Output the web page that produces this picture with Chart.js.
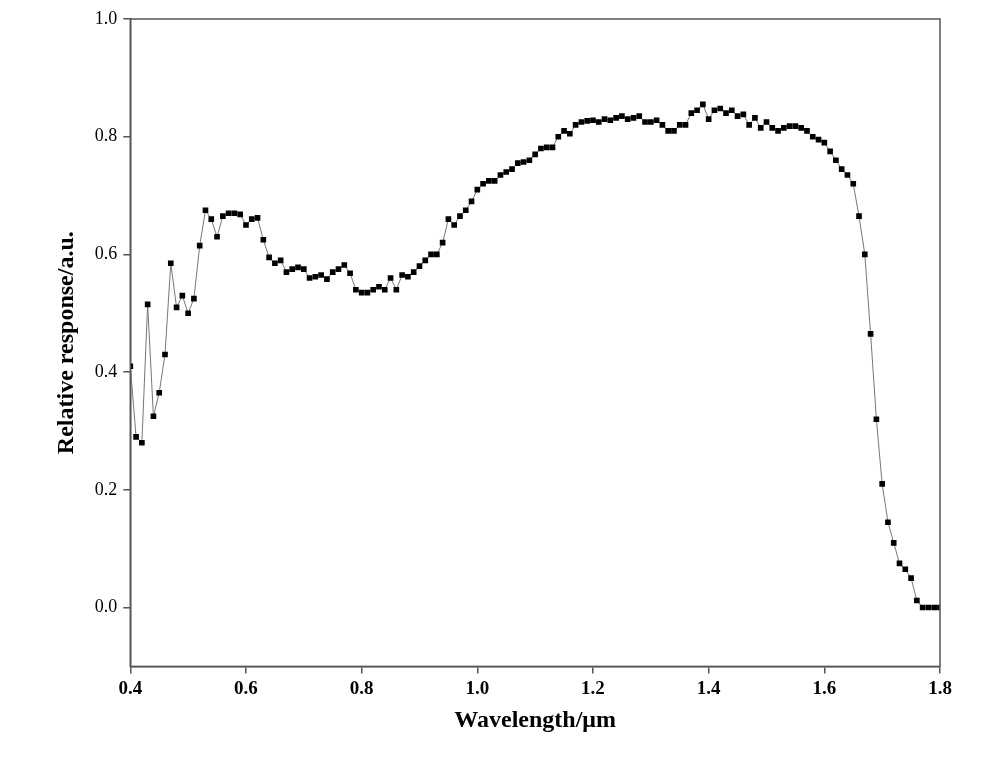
<!DOCTYPE html>
<html><head><meta charset="utf-8">
<script src="https://cdn.jsdelivr.net/npm/chart.js@4/dist/chart.umd.min.js"></script>
<style>html,body{margin:0;padding:0;background:#fff}#w{width:997px;height:758px}</style>
</head><body><div id="w"><canvas id="c"></canvas></div>
<script>
const wavelengths = [0.40,0.41,0.42,0.43,0.44,0.45,0.46,0.47,0.48,0.49,0.50,0.51,0.52,0.53,0.54,0.55,0.56,0.57,0.58,0.59,0.60,0.61,0.62,0.63,0.64,0.65,0.66,0.67,0.68,0.69,0.70,0.71,0.72,0.73,0.74,0.75,0.76,0.77,0.78,0.79,0.80,0.81,0.82,0.83,0.84,0.85,0.86,0.87,0.88,0.89,0.90,0.91,0.92,0.93,0.94,0.95,0.96,0.97,0.98,0.99,1.00,1.01,1.02,1.03,1.04,1.05,1.06,1.07,1.08,1.09,1.10,1.11,1.12,1.13,1.14,1.15,1.16,1.17,1.18,1.19,1.20,1.21,1.22,1.23,1.24,1.25,1.26,1.27,1.28,1.29,1.30,1.31,1.32,1.33,1.34,1.35,1.36,1.37,1.38,1.39,1.40,1.41,1.42,1.43,1.44,1.45,1.46,1.47,1.48,1.49,1.50,1.51,1.52,1.53,1.54,1.55,1.56,1.57,1.58,1.59,1.60,1.61,1.62,1.63,1.64,1.65,1.66,1.67,1.68,1.69,1.70,1.71,1.72,1.73,1.74,1.75,1.76,1.77,1.78,1.79,1.80];
const response = [0.41,0.29,0.28,0.515,0.325,0.365,0.43,0.585,0.51,0.53,0.50,0.525,0.615,0.675,0.66,0.63,0.665,0.67,0.67,0.668,0.65,0.66,0.662,0.625,0.595,0.585,0.59,0.57,0.575,0.578,0.575,0.56,0.562,0.565,0.558,0.57,0.575,0.582,0.568,0.54,0.535,0.535,0.54,0.545,0.54,0.56,0.54,0.565,0.562,0.57,0.58,0.59,0.60,0.60,0.62,0.66,0.65,0.665,0.675,0.69,0.71,0.72,0.725,0.725,0.735,0.74,0.745,0.755,0.757,0.76,0.77,0.78,0.782,0.782,0.80,0.81,0.805,0.82,0.825,0.827,0.828,0.825,0.83,0.828,0.832,0.835,0.83,0.832,0.835,0.825,0.825,0.828,0.82,0.81,0.81,0.82,0.82,0.84,0.845,0.855,0.83,0.845,0.848,0.84,0.845,0.835,0.838,0.82,0.832,0.815,0.825,0.815,0.81,0.815,0.818,0.818,0.815,0.81,0.80,0.795,0.79,0.775,0.76,0.745,0.735,0.72,0.665,0.60,0.465,0.32,0.21,0.145,0.11,0.075,0.065,0.05,0.012,0.0,0.0,0.0,0.0];
const xTicks = [0.4,0.6,0.8,1.0,1.2,1.4,1.6,1.8];
const yTicks = [0.0,0.2,0.4,0.6,0.8,1.0];

const frame = {id:'frame', afterDatasetsDraw(ch){const a=ch.chartArea,c=ch.ctx;c.save();c.strokeStyle='#555';c.lineWidth=1.5;c.strokeRect(a.left,a.top,a.right-a.left,a.bottom-a.top);c.restore();}};
const font = {family:'"Liberation Serif", serif', weight:'bold', size:19};
new Chart(document.getElementById('c'), {
  type:'scatter',
  data:{datasets:[{data:wavelengths.map((x,i)=>({x,y:response[i]})),showLine:true,borderColor:'#777',borderWidth:1,pointStyle:'rect',pointRadius:4,pointBackgroundColor:'#000',pointBorderColor:'#000',pointBorderWidth:0}]},
  options:{responsive:true,maintainAspectRatio:false,animation:false,
    layout:{padding:{top:19,right:57,left:48,bottom:19}},
    plugins:{legend:{display:false},tooltip:{enabled:false}},
    scales:{
      x:{type:'linear',min:0.4,max:1.8,
        afterBuildTicks(s){s.ticks=xTicks.map(v=>({value:v}));},
        ticks:{color:'#000',font,callback:v=>v.toFixed(1),maxRotation:0,padding:4},
        grid:{drawOnChartArea:false,tickLength:7,color:'#555',lineWidth:1.5},
        border:{color:'#555',width:1.5},
        title:{display:true,text:'Wavelength/μm',color:'#000',font:{family:'"Liberation Serif", serif',weight:'bold',size:24},padding:{top:2}}},
      y:{min:-0.1,max:1.0,
        afterBuildTicks(s){s.ticks=yTicks.map(v=>({value:v}));},
        ticks:{color:'#000',font:{family:'"Liberation Serif", serif',size:18},callback:v=>v.toFixed(1),padding:6},
        grid:{drawOnChartArea:false,tickLength:7,color:'#555',lineWidth:1.5},
        border:{color:'#555',width:1.5},
        title:{display:true,text:'Relative response/a.u.',color:'#000',font:{family:'"Liberation Serif", serif',weight:'bold',size:24},padding:{bottom:8}}}
    }},
  plugins:[frame]
});
</script></body></html>
